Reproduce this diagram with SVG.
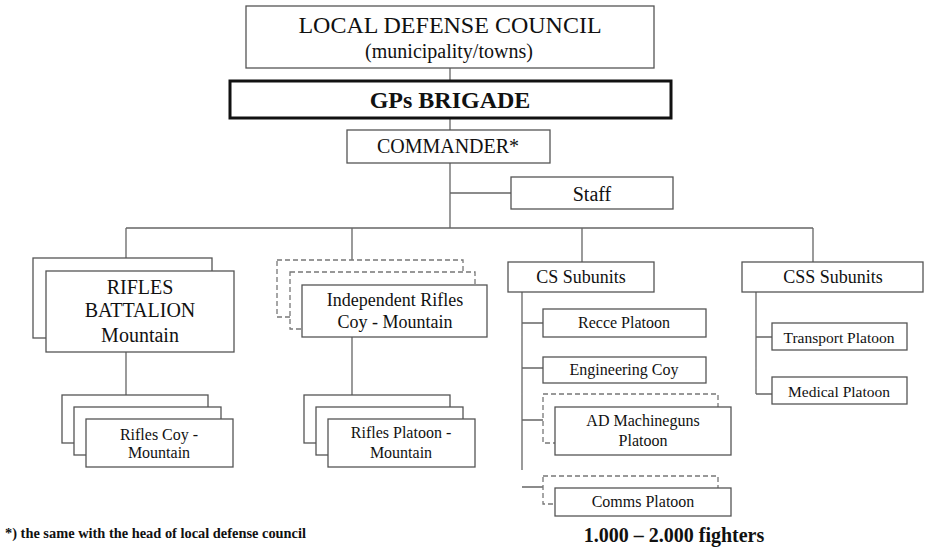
<svg xmlns="http://www.w3.org/2000/svg" width="925" height="547" viewBox="0 0 925 547">
<style>
.b{fill:#fff;stroke:#555;stroke-width:1.3}
.d{fill:#fff;stroke:#777;stroke-width:1.3;stroke-dasharray:5 3}
.k{fill:#fff;stroke:#111;stroke-width:3}
.c{fill:none;stroke:#666;stroke-width:1.3}
text{font-family:"Liberation Serif","Times New Roman",serif;fill:#111;text-anchor:middle}
.bold{font-weight:bold}
</style>
<rect width="925" height="547" fill="#fff"/>
<g id="connectors">
<path class="c" d="M450 68V81M450 118V130M450 163V228M450 193H511M126 228H813M126 228V271M352 228V260M582 228V262M813 228V262M126 352V395M352 337V395M522 292V470M522 323H543M522 368H543M522 420H543M522 487H543M756 292V394M756 337H772M756 394H772"/>
</g>
<g id="ldc">
<rect class="b" x="246" y="6" width="408" height="62"/>
<text x="450" y="33" font-size="24">LOCAL DEFENSE COUNCIL</text>
<text x="449" y="58" font-size="20">(municipality/towns)</text>
</g>
<g id="brigade">
<rect class="k" x="230" y="81" width="441" height="37"/>
<text x="450" y="108" font-size="24" class="bold">GPs BRIGADE</text>
</g>
<g id="commander">
<rect class="b" x="347" y="130" width="203" height="33"/>
<text x="448" y="153" font-size="20">COMMANDER*</text>
</g>
<g id="staff">
<rect class="b" x="511" y="177" width="162" height="32"/>
<text x="592" y="201" font-size="20">Staff</text>
</g>
<g id="rifles-battalion">
<rect class="b" x="33" y="258" width="179" height="80"/>
<rect class="b" x="46" y="271" width="188" height="81"/>
<text x="140" y="294" font-size="20">RIFLES</text>
<text x="140" y="317" font-size="20">BATTALION</text>
<text x="140" y="342" font-size="20">Mountain</text>
</g>
<g id="rifles-coy">
<rect class="b" x="62" y="395" width="146" height="48"/>
<rect class="b" x="74" y="407" width="147" height="48"/>
<rect class="b" x="86" y="419" width="147" height="48"/>
<text x="159" y="440" font-size="16">Rifles Coy -</text>
<text x="159" y="458" font-size="16">Mountain</text>
</g>
<g id="independent-coy">
<rect class="d" x="277" y="260" width="186" height="57"/>
<rect class="d" x="290" y="272" width="185" height="57"/>
<rect class="b" x="302" y="285" width="185" height="52"/>
<text x="395" y="306" font-size="18">Independent Rifles</text>
<text x="395" y="328" font-size="18">Coy - Mountain</text>
</g>
<g id="rifles-platoon">
<rect class="b" x="304" y="395" width="146" height="48"/>
<rect class="b" x="316" y="407" width="147" height="48"/>
<rect class="b" x="328" y="419" width="147" height="48"/>
<text x="401" y="438" font-size="16">Rifles Platoon -</text>
<text x="401" y="458" font-size="16">Mountain</text>
</g>
<g id="cs-subunits">
<rect class="b" x="508" y="262" width="146" height="30"/>
<text x="581" y="283" font-size="18">CS Subunits</text>
</g>
<g id="css-subunits">
<rect class="b" x="742" y="262" width="181" height="30"/>
<text x="833" y="283" font-size="18">CSS Subunits</text>
</g>
<g id="recce">
<rect class="b" x="543" y="309" width="163" height="28"/>
<text x="624" y="328" font-size="16">Recce Platoon</text>
</g>
<g id="engineering">
<rect class="b" x="543" y="357" width="163" height="26"/>
<text x="624" y="375" font-size="16">Engineering Coy</text>
</g>
<g id="ad-machineguns">
<rect class="d" x="543" y="394" width="175" height="49"/>
<rect class="b" x="555" y="407" width="176" height="48"/>
<text x="643" y="426" font-size="16">AD Machineguns</text>
<text x="643" y="446" font-size="16">Platoon</text>
</g>
<g id="comms">
<rect class="d" x="543" y="476" width="175" height="28"/>
<rect class="b" x="555" y="488" width="176" height="28"/>
<text x="643" y="507" font-size="16">Comms Platoon</text>
</g>
<g id="transport">
<rect class="b" x="772" y="323" width="135" height="27"/>
<text x="839" y="343" font-size="15.5">Transport Platoon</text>
</g>
<g id="medical">
<rect class="b" x="772" y="377" width="135" height="27"/>
<text x="839" y="397" font-size="15.5">Medical Platoon</text>
</g>
<text x="5" y="538" font-size="14.4" class="bold" style="text-anchor:start">*) the same with the head of local defense council</text>
<text x="674" y="542" font-size="20" class="bold">1.000 – 2.000 fighters</text>
</svg>
